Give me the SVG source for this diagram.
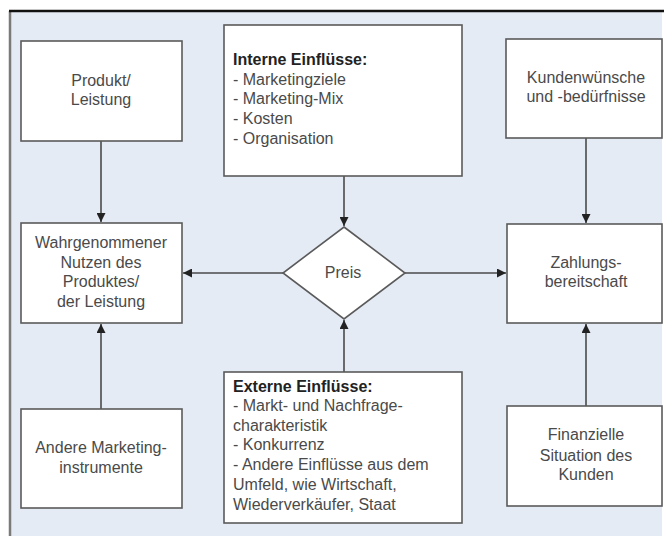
<svg xmlns="http://www.w3.org/2000/svg" width="664" height="536" viewBox="0 0 664 536">
<style>
.box{fill:#ffffff;stroke:#5a5a5a;stroke-width:1.6}
.t{font-family:"Liberation Sans",Arial,sans-serif;font-size:16px;fill:#4a4a4a}
.c{text-anchor:middle}
.b{font-weight:bold;fill:#222}
.ln{stroke:#4a4a4a;stroke-width:1.6;fill:none;marker-end:url(#ah)}
</style>
<defs>
<marker id="ah" viewBox="0 0 10 10" refX="10" refY="5" markerWidth="9" markerHeight="9" markerUnits="userSpaceOnUse" orient="auto">
<path d="M0,0 L10,5 L0,10 Z" fill="#222"/>
</marker>
</defs>
<rect x="0" y="0" width="664" height="536" fill="#ffffff"/>
<rect x="10" y="11" width="652" height="525" fill="#e5ebf5"/>
<line x1="10" y1="11" x2="10" y2="536" stroke="#7a7a7a" stroke-width="2.5"/>
<line x1="9" y1="11" x2="664" y2="11" stroke="#111" stroke-width="2.5"/>

<g id="connectors">
<line class="ln" x1="101" y1="141" x2="101" y2="222"/>
<line class="ln" x1="344" y1="176" x2="344" y2="226"/>
<line class="ln" x1="586" y1="138" x2="586" y2="223"/>
<line class="ln" x1="283" y1="273" x2="183" y2="273"/>
<line class="ln" x1="405" y1="273" x2="506" y2="273"/>
<line class="ln" x1="344" y1="372" x2="344" y2="320"/>
<line class="ln" x1="101" y1="409" x2="101" y2="324"/>
<line class="ln" x1="586" y1="406" x2="586" y2="324"/>
</g>

<g id="produkt">
<rect class="box" x="21" y="41" width="161" height="100"/>
<text class="t c" x="101" y="86">Produkt/</text>
<text class="t c" x="101" y="105">Leistung</text>
</g>

<g id="interne">
<rect class="box" x="224" y="25" width="238" height="151"/>
<text class="t b" x="233" y="65">Interne Einflüsse:</text>
<text class="t" x="233" y="85">- Marketingziele</text>
<text class="t" x="233" y="104">- Marketing-Mix</text>
<text class="t" x="233" y="124">- Kosten</text>
<text class="t" x="233" y="144">- Organisation</text>
</g>

<g id="kunden">
<rect class="box" x="506" y="39" width="156" height="99"/>
<text class="t c" x="586" y="83">Kundenwünsche</text>
<text class="t c" x="586" y="102">und -bedürfnisse</text>
</g>

<g id="nutzen">
<rect class="box" x="21" y="223" width="161" height="100"/>
<text class="t c" x="101" y="248">Wahrgenommener</text>
<text class="t c" x="101" y="268">Nutzen des</text>
<text class="t c" x="101" y="287">Produktes/</text>
<text class="t c" x="101" y="307">der Leistung</text>
</g>

<g id="preis">
<polygon class="box" points="344,227 405,273 344,319 283,273"/>
<text class="t c" x="343" y="278">Preis</text>
</g>

<g id="zahlung">
<rect class="box" x="507" y="224" width="155" height="99"/>
<text class="t c" x="586" y="268">Zahlungs-</text>
<text class="t c" x="586" y="287">bereitschaft</text>
</g>

<g id="andere">
<rect class="box" x="21" y="409" width="161" height="99"/>
<text class="t c" x="101" y="453">Andere Marketing-</text>
<text class="t c" x="101" y="473">instrumente</text>
</g>

<g id="externe">
<rect class="box" x="224" y="372" width="238" height="151"/>
<text class="t b" x="233" y="392">Externe Einflüsse:</text>
<text class="t" x="233" y="411">- Markt- und Nachfrage-</text>
<text class="t" x="233" y="431">charakteristik</text>
<text class="t" x="233" y="450">- Konkurrenz</text>
<text class="t" x="233" y="470">- Andere Einflüsse aus dem</text>
<text class="t" x="233" y="490">Umfeld, wie Wirtschaft,</text>
<text class="t" x="233" y="510">Wiederverkäufer, Staat</text>
</g>

<g id="finanzielle">
<rect class="box" x="507" y="406" width="155" height="100"/>
<text class="t c" x="586" y="440">Finanzielle</text>
<text class="t c" x="586" y="461">Situation des</text>
<text class="t c" x="586" y="480">Kunden</text>
</g>
</svg>
